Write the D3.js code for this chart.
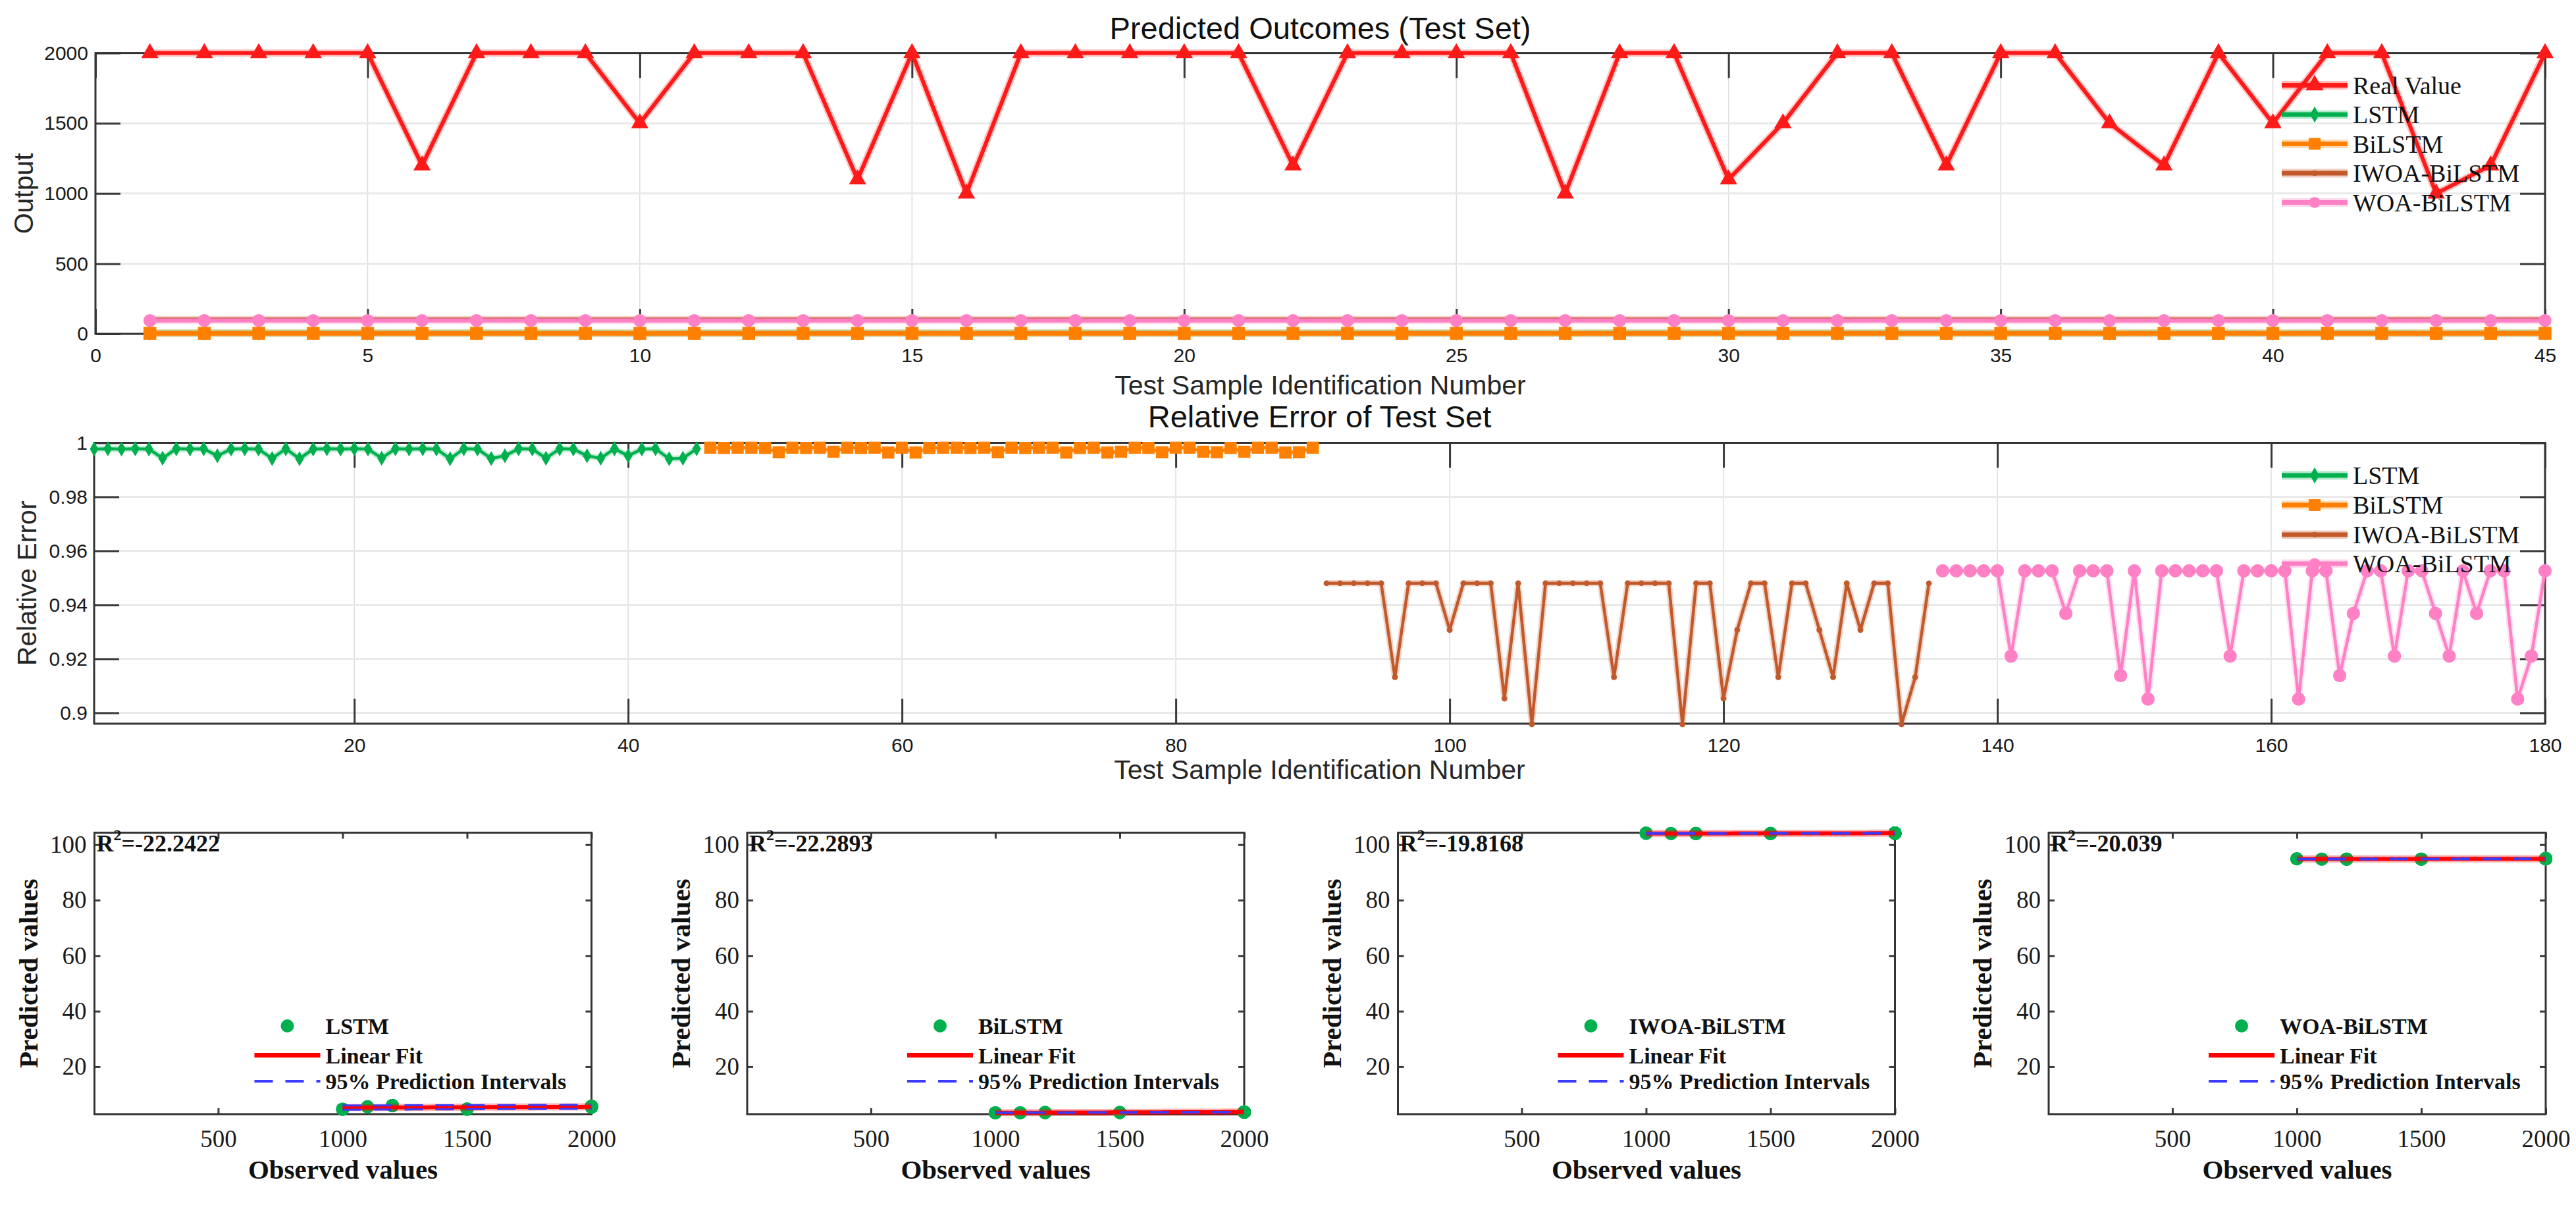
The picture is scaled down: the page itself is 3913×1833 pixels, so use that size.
<!DOCTYPE html>
<html>
<head>
<meta charset="utf-8">
<script src="https://cdn.jsdelivr.net/npm/d3@7"></script>
<style>
  body { margin: 0; background: #ffffff; }
  svg { display: block; }
</style>
</head>
<body>
<div id="chart-container"></div>
<script>
// ---- data ----
const realValue = [2000,2000,2000,2000,2000,1200,2000,2000,2000,1500,2000,2000,2000,1100,2000,1000,2000,2000,2000,2000,
                   2000,1200,2000,2000,2000,2000,1000,2000,2000,1100,1500,2000,2000,1200,2000,2000,1500,1200,2000,1500,
                   2000,2000,1000,1200,2000];

const predLSTM = [5.5,5.6,5.4,5.7,5.5,6.0,5.6,5.5,5.8,4.7,5.6,5.4,5.6,5.6,5.5,4.7,5.6,5.7,5.5,5.6,
                  5.4,6.0,5.6,5.5,5.7,5.6,4.6,5.5,5.6,5.5,4.8,5.6,5.7,5.9,5.5,5.6,4.7,6.0,5.6,4.7,
                  5.5,5.6,4.7,6.0,5.6];
const predBiLSTM = [3.7,3.6,3.7,3.7,3.6,3.5,3.7,3.6,3.7,3.5,3.7,3.6,3.7,3.4,3.7,3.4,3.6,3.7,3.7,3.6,
                    3.7,3.5,3.7,3.6,3.7,3.7,3.4,3.6,3.7,3.4,3.5,3.7,3.6,3.5,3.7,3.7,3.5,3.5,3.6,3.5,
                    3.7,3.7,3.4,3.5,3.7];
const predIWOA = [104.1,104.2,104.1,104.1,104.2,104.0,104.1,104.2,104.1,104.0,104.1,104.1,104.2,104.0,104.1,104.2,104.1,104.1,104.2,104.1,
                  104.1,104.0,104.2,104.1,104.1,104.2,104.1,104.1,104.2,104.0,104.0,104.1,104.2,104.0,104.1,104.1,104.0,104.0,104.2,104.0,
                  104.1,104.2,104.1,104.0,104.1];
const predWOA = [94.9,94.9,95.0,94.9,94.9,94.8,94.9,95.0,94.9,94.8,94.9,94.9,95.0,94.8,94.9,94.9,94.9,95.0,94.9,94.9,
                 94.9,94.8,94.9,95.0,94.9,94.9,94.9,94.9,95.0,94.8,94.8,94.9,94.9,94.8,95.0,94.9,94.8,94.8,94.9,94.8,
                 94.9,95.0,94.9,94.8,94.9];

const errLSTM = [0.9977,0.9978,0.9977,0.9978,0.9977,0.9943,0.9978,0.9977,0.9978,0.9952,0.9977,0.9978,0.9977,0.9942,0.9978,0.9941,0.9977,0.9978,0.9977,0.9978,
                 0.9977,0.9943,0.9978,0.9977,0.9978,0.9977,0.9941,0.9978,0.9977,0.9942,0.9952,0.9978,0.9977,0.9943,0.9978,0.9977,0.9952,0.9943,0.9978,0.9952,
                 0.9977,0.9978,0.9941,0.9943,0.9978];
const errBiLSTM = [0.9982,0.9981,0.9982,0.9982,0.9981,0.9965,0.9982,0.9981,0.9982,0.9967,0.9982,0.9981,0.9982,0.9964,0.9982,0.9964,0.9981,0.9982,0.9982,0.9981,
                   0.9982,0.9965,0.9982,0.9981,0.9982,0.9982,0.9964,0.9981,0.9982,0.9964,0.9967,0.9982,0.9981,0.9965,0.9982,0.9982,0.9967,0.9965,0.9981,0.9967,
                   0.9982,0.9982,0.9964,0.9965,0.9982];
const errIWOA = [0.948,0.948,0.948,0.948,0.948,0.9132,0.948,0.948,0.948,0.9307,0.948,0.948,0.948,0.9053,0.948,0.8958,0.948,0.948,0.948,0.948,
                 0.948,0.9132,0.948,0.948,0.948,0.948,0.8958,0.948,0.948,0.9053,0.9307,0.948,0.948,0.9132,0.948,0.948,0.9307,0.9132,0.948,0.9307,
                 0.948,0.948,0.8958,0.9132,0.948];
const errWOA = [0.9526,0.9526,0.9526,0.9526,0.9526,0.921,0.9526,0.9526,0.9526,0.9368,0.9526,0.9526,0.9526,0.9138,0.9526,0.9051,0.9526,0.9526,0.9526,0.9526,
                0.9526,0.921,0.9526,0.9526,0.9526,0.9526,0.9051,0.9526,0.9526,0.9138,0.9368,0.9526,0.9526,0.921,0.9526,0.9526,0.9368,0.921,0.9526,0.9368,
                0.9526,0.9526,0.9051,0.921,0.9526];

const modelNames = ["LSTM", "BiLSTM", "IWOA-BiLSTM", "WOA-BiLSTM"];
const r2Labels = ["-22.2422", "-22.2893", "-19.8168", "-20.039"];

const outputTicks = [0, 500, 1000, 1500, 2000];
const sampleTicks = [0, 5, 10, 15, 20, 25, 30, 35, 40, 45];
const errorTicks = [0.9, 0.92, 0.94, 0.96, 0.98, 1];
const indexTicks = [20, 40, 60, 80, 100, 120, 140, 160, 180];
const observedTicks = [500, 1000, 1500, 2000];
const predictedTicks = [20, 40, 60, 80, 100];

// ---- styling ----
const SANS = "'Liberation Sans', Arial, sans-serif";
const SERIF = "'Liberation Serif', 'Times New Roman', serif";
const colors = {
    real: "#ff1a1a",
    lstm: "#00b04f",
    bilstm: "#ff8000",
    iwoa: "#c2592a",
    woa: "#ff80c4"
};

const svg = d3.select("#chart-container")
    .append("svg")
    .attr("width", 3913)
    .attr("height", 1833)
    .style("background", "#ffffff");

// matlab-like box: grid, inward ticks on all four sides, tick labels bottom/left
function drawBox(box, x, y, cfg) {
    const g = svg.append("g");
    if (cfg.grid) {
        g.append("g").selectAll("line")
            .data(cfg.xTicks)
            .join("line")
            .attr("x1", d => x(d)).attr("x2", d => x(d))
            .attr("y1", box.top).attr("y2", box.bottom)
            .attr("stroke", "#dcdcdc")
            .attr("stroke-width", 1.5);
        g.append("g").selectAll("line")
            .data(cfg.yTicks)
            .join("line")
            .attr("x1", box.left).attr("x2", box.right)
            .attr("y1", d => y(d)).attr("y2", d => y(d))
            .attr("stroke", "#e9e9e9")
            .attr("stroke-width", 3);
    }

    g.append("g")
        .attr("transform", `translate(0,${box.bottom})`)
        .call(d3.axisBottom(x).tickValues(cfg.xTicks).tickFormat(cfg.xFormat)
            .tickSize(-cfg.tickLen).tickPadding(cfg.padX));
    g.append("g")
        .attr("transform", `translate(0,${box.top})`)
        .call(d3.axisTop(x).tickValues(cfg.xTicks).tickFormat("").tickSize(-cfg.tickLen));
    g.append("g")
        .attr("transform", `translate(${box.left},0)`)
        .call(d3.axisLeft(y).tickValues(cfg.yTicks).tickFormat(cfg.yFormat)
            .tickSize(-cfg.tickLen).tickPadding(cfg.padY));
    g.append("g")
        .attr("transform", `translate(${box.right},0)`)
        .call(d3.axisRight(y).tickValues(cfg.yTicks).tickFormat("").tickSize(-cfg.tickLen));

    g.selectAll(".domain").remove();
    g.selectAll(".tick line")
        .attr("stroke", "#3a3a3a")
        .attr("stroke-width", cfg.tickWidth);
    g.selectAll(".tick text")
        .attr("font-family", cfg.font)
        .attr("font-size", cfg.fontSize)
        .attr("fill", "#1a1a1a");

    g.append("rect")
        .attr("x", box.left)
        .attr("y", box.top)
        .attr("width", box.right - box.left)
        .attr("height", box.bottom - box.top)
        .attr("fill", "none")
        .attr("stroke", "#333333")
        .attr("stroke-width", 3);
    return g;
}

function drawSeries(pts, x, y, color, lw, symType, symSize) {
    const g = svg.append("g");
    // soft halo like the blurred source
    g.append("path")
        .datum(pts)
        .attr("d", d3.line().x(d => x(d[0])).y(d => y(d[1])))
        .attr("fill", "none")
        .attr("stroke", color)
        .attr("stroke-opacity", 0.25)
        .attr("stroke-width", lw + 5)
        .attr("stroke-linejoin", "round");
    g.append("path")
        .datum(pts)
        .attr("d", d3.line().x(d => x(d[0])).y(d => y(d[1])))
        .attr("fill", "none")
        .attr("stroke", color)
        .attr("stroke-width", lw)
        .attr("stroke-linejoin", "round");
    g.selectAll("path.mk")
        .data(pts)
        .join("path")
        .attr("class", "mk")
        .attr("transform", d => `translate(${x(d[0])},${y(d[1])})`)
        .attr("d", d3.symbol().type(symType).size(symSize))
        .attr("fill", color);
}

function drawLegend(items, x0, ys) {
    items.forEach((it, i) => {
        const g = svg.append("g");
        g.append("line")
            .attr("x1", x0).attr("x2", x0 + 100)
            .attr("y1", ys[i]).attr("y2", ys[i])
            .attr("stroke", it.color)
            .attr("stroke-opacity", 0.3)
            .attr("stroke-width", 13);
        g.append("line")
            .attr("x1", x0).attr("x2", x0 + 100)
            .attr("y1", ys[i]).attr("y2", ys[i])
            .attr("stroke", it.color)
            .attr("stroke-width", 7);
        g.append("path")
            .attr("transform", `translate(${x0 + 50},${ys[i]})`)
            .attr("d", d3.symbol().type(it.sym).size(it.size))
            .attr("fill", it.color);
        g.append("text")
            .attr("x", x0 + 108)
            .attr("y", ys[i])
            .attr("dy", "0.35em")
            .attr("font-family", SERIF)
            .attr("font-size", 38)
            .attr("fill", "#111")
            .text(it.name);
    });
}

function title(txt, cx, baseline) {
    svg.append("text")
        .attr("x", cx).attr("y", baseline)
        .attr("text-anchor", "middle")
        .attr("font-family", SANS)
        .attr("font-size", 47)
        .attr("fill", "#111")
        .text(txt);
}

function xLabel(txt, cx, baseline) {
    svg.append("text")
        .attr("x", cx).attr("y", baseline)
        .attr("text-anchor", "middle")
        .attr("font-family", SANS)
        .attr("font-size", 41)
        .attr("fill", "#262626")
        .text(txt);
}

function yLabel(txt, bx, cy) {
    svg.append("text")
        .attr("transform", `translate(${bx},${cy}) rotate(-90)`)
        .attr("text-anchor", "middle")
        .attr("font-family", SANS)
        .attr("font-size", 41)
        .attr("fill", "#262626")
        .text(txt);
}

// ---------------- top: predicted outcomes ----------------
function showPredicted() {
    const box = {left: 145, right: 3866, top: 80.6, bottom: 507};
    const x = d3.scaleLinear().domain([0, 45]).range([box.left, box.right]);
    const y = d3.scaleLinear().domain([0, 2000]).range([box.bottom, box.top]);

    drawBox(box, x, y, {
        grid: true, xTicks: sampleTicks, yTicks: outputTicks,
        xFormat: d => d, yFormat: d => d,
        tickLen: 38, tickWidth: 3, padX: 22, padY: 11,
        font: SANS, fontSize: 30
    });

    const idx = d3.range(1, realValue.length + 1);
    drawSeries(idx.map((k, i) => [k, realValue[i]]), x, y, colors.real, 6, d3.symbolTriangle, 300);
    drawSeries(idx.map((k, i) => [k, predLSTM[i]]), x, y, colors.lstm, 6, d3.symbolDiamond, 150);
    drawSeries(idx.map((k, i) => [k, predBiLSTM[i]]), x, y, colors.bilstm, 7, d3.symbolSquare, 380);
    drawSeries(idx.map((k, i) => [k, predIWOA[i]]), x, y, colors.iwoa, 5, d3.symbolCircle, 60);
    drawSeries(idx.map((k, i) => [k, predWOA[i]]), x, y, colors.woa, 6, d3.symbolCircle, 300);

    title("Predicted Outcomes (Test Set)", (box.left + box.right) / 2, 59);
    xLabel("Test Sample Identification Number", (box.left + box.right) / 2, 599);
    yLabel("Output", 50, (box.top + box.bottom) / 2);

    drawLegend([
        {name: "Real Value", color: colors.real, sym: d3.symbolTriangle, size: 320},
        {name: "LSTM", color: colors.lstm, sym: d3.symbolDiamond, size: 170},
        {name: "BiLSTM", color: colors.bilstm, sym: d3.symbolSquare, size: 320},
        {name: "IWOA-BiLSTM", color: colors.iwoa, sym: d3.symbolCircle, size: 60},
        {name: "WOA-BiLSTM", color: colors.woa, sym: d3.symbolCircle, size: 220}
    ], 3466, [129.5, 174, 218.5, 263, 307.5]);
}

// ---------------- middle: relative error ----------------
function showRelativeError() {
    const box = {left: 143, right: 3866, top: 672.5, bottom: 1099};
    const x = d3.scaleLinear().domain([1, 180]).range([box.left, box.right]);
    const y = d3.scaleLinear().domain([0.896, 1]).range([box.bottom, box.top]);

    drawBox(box, x, y, {
        grid: true, xTicks: indexTicks, yTicks: errorTicks,
        xFormat: d => d, yFormat: d => (d === 1 ? "1" : String(+d.toFixed(2))),
        tickLen: 38, tickWidth: 3, padX: 22, padY: 10,
        font: SANS, fontSize: 30
    });

    const n = realValue.length;
    const pts = (arr, offset) => arr.map((v, i) => [i + 1 + offset, v]);
    drawSeries(pts(errLSTM, 0), x, y, colors.lstm, 4.5, d3.symbolDiamond, 150);
    drawSeries(pts(errBiLSTM, n), x, y, colors.bilstm, 4.5, d3.symbolSquare, 340);
    drawSeries(pts(errIWOA, 2 * n), x, y, colors.iwoa, 4.5, d3.symbolCircle, 60);
    drawSeries(pts(errWOA, 3 * n), x, y, colors.woa, 4.5, d3.symbolCircle, 320);

    title("Relative Error of Test Set", (box.left + box.right) / 2, 649);
    xLabel("Test Sample Identification Number", (box.left + box.right) / 2, 1183);
    yLabel("Relative Error", 55, (box.top + box.bottom) / 2);

    drawLegend([
        {name: "LSTM", color: colors.lstm, sym: d3.symbolDiamond, size: 170},
        {name: "BiLSTM", color: colors.bilstm, sym: d3.symbolSquare, size: 320},
        {name: "IWOA-BiLSTM", color: colors.iwoa, sym: d3.symbolCircle, size: 60},
        {name: "WOA-BiLSTM", color: colors.woa, sym: d3.symbolCircle, size: 220}
    ], 3466, [722, 767, 812, 856]);
}

// ---------------- bottom: regression plots ----------------
function linearFit(xs, ys) {
    const n = xs.length;
    const mx = d3.mean(xs), my = d3.mean(ys);
    let sxx = 0, sxy = 0;
    xs.forEach((xv, i) => { sxx += (xv - mx) ** 2; sxy += (xv - mx) * (ys[i] - my); });
    const b = sxy / sxx, a = my - b * mx;
    let sse = 0;
    xs.forEach((xv, i) => { sse += (ys[i] - (a + b * xv)) ** 2; });
    const s = Math.sqrt(sse / (n - 2));
    const t = 2.017; // t(0.975, 43)
    return {
        fit: xv => a + b * xv,
        half: xv => t * s * Math.sqrt(1 + 1 / n + (xv - mx) ** 2 / sxx)
    };
}

function showRegression(k, preds) {
    const left = [143.5, 1135, 2123.5, 3112][k];
    const box = {left: left, right: left + 755, top: 1264.6, bottom: 1692};
    const x = d3.scaleLinear().domain([2.9, 2000]).range([box.left, box.right]);
    const y = d3.scaleLinear().domain([2.9, 104.3]).range([box.bottom, box.top]);

    drawBox(box, x, y, {
        grid: false, xTicks: observedTicks, yTicks: predictedTicks,
        xFormat: d => d, yFormat: d => d,
        tickLen: 9, tickWidth: 3, padX: 24, padY: 12,
        font: SERIF, fontSize: 37
    });

    const g = svg.append("g");
    g.selectAll("circle")
        .data(realValue.map((v, i) => [v, preds[i]]))
        .join("circle")
        .attr("cx", d => x(d[0]))
        .attr("cy", d => y(d[1]))
        .attr("r", 10)
        .attr("fill", colors.lstm);

    const lf = linearFit(realValue, preds);
    const xs = d3.ticks(d3.min(realValue), d3.max(realValue), 40);
    g.append("path")
        .datum(xs)
        .attr("d", d3.line().x(d => x(d)).y(d => y(lf.fit(d))))
        .attr("fill", "none")
        .attr("stroke", "#ff0000")
        .attr("stroke-opacity", 0.3)
        .attr("stroke-width", 11);
    g.append("path")
        .datum(xs)
        .attr("d", d3.line().x(d => x(d)).y(d => y(lf.fit(d))))
        .attr("fill", "none")
        .attr("stroke", "#ff0000")
        .attr("stroke-width", 6);
    [-1, 1].forEach(sgn => {
        g.append("path")
            .datum(xs)
            .attr("d", d3.line().x(d => x(d)).y(d => y(lf.fit(d) + sgn * lf.half(d))))
            .attr("fill", "none")
            .attr("stroke", "#3b3bff")
            .attr("stroke-width", 3)
            .attr("stroke-dasharray", "28,19");
    });

    // R^2 note
    const r2 = svg.append("text")
        .attr("x", box.left + 3)
        .attr("y", box.top + 28)
        .attr("font-family", SERIF)
        .attr("font-weight", "bold")
        .attr("font-size", 36)
        .attr("fill", "#111");
    r2.append("tspan").text("R");
    r2.append("tspan").attr("font-size", 24).attr("dy", -17).text("2");
    r2.append("tspan").attr("dy", 17).text("=" + r2Labels[k]);

    // legend
    const lx = box.left + 243;
    const ly = [box.top + 293.4, box.top + 338, box.top + 377.4];
    svg.append("circle").attr("cx", lx + 50).attr("cy", ly[0]).attr("r", 10).attr("fill", colors.lstm);
    svg.append("line").attr("x1", lx).attr("x2", lx + 100).attr("y1", ly[1]).attr("y2", ly[1])
        .attr("stroke", "#ff0000").attr("stroke-width", 7);
    svg.append("line").attr("x1", lx).attr("x2", lx + 100).attr("y1", ly[2]).attr("y2", ly[2])
        .attr("stroke", "#3b3bff").attr("stroke-width", 4).attr("stroke-dasharray", "28,19");
    [modelNames[k], "Linear Fit", "95% Prediction Intervals"].forEach((txt, i) => {
        svg.append("text")
            .attr("x", lx + 108)
            .attr("y", ly[i])
            .attr("dy", "0.35em")
            .attr("font-family", SERIF)
            .attr("font-weight", "bold")
            .attr("font-size", 34)
            .attr("fill", "#111")
            .text(txt);
    });

    svg.append("text")
        .attr("x", (box.left + box.right) / 2)
        .attr("y", 1790)
        .attr("text-anchor", "middle")
        .attr("font-family", SERIF)
        .attr("font-weight", "bold")
        .attr("font-size", 41)
        .attr("fill", "#111")
        .text("Observed values");
    svg.append("text")
        .attr("transform", `translate(${box.left - 87},${(box.top + box.bottom) / 2}) rotate(-90)`)
        .attr("text-anchor", "middle")
        .attr("font-family", SERIF)
        .attr("font-weight", "bold")
        .attr("font-size", 41)
        .attr("fill", "#111")
        .text("Predicted values");
}

showPredicted();
showRelativeError();
[predLSTM, predBiLSTM, predIWOA, predWOA].forEach((p, k) => showRegression(k, p));
</script>
</body>
</html>
